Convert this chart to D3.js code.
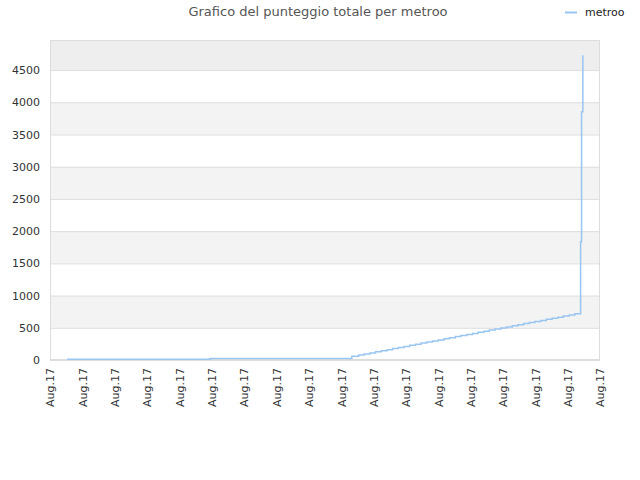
<!DOCTYPE html>
<html>
<head>
<meta charset="utf-8">
<script src="https://cdn.jsdelivr.net/npm/d3@7"></script>
<style>
  body { margin: 0; background: #fff; }
  text { font-family: "DejaVu Sans", sans-serif; }
</style>
</head>
<body>
<svg width="640" height="480"></svg>
<script>
// time axis in "tick units" (0..17), every tick reads Aug.17
const tickPos = d3.range(0, 18);
const tickLabel = "Aug.17";
const yTicks = [0, 500, 1000, 1500, 2000, 2500, 3000, 3500, 4000, 4500];

// cumulative score
const times = [0.53, 4.95, 9.33, 9.54, 9.71, 9.89, 10.06, 10.24, 10.42, 10.59, 10.77, 10.94,
  11.12, 11.30, 11.47, 11.65, 11.82, 12.00, 12.18, 12.35, 12.53, 12.70, 12.88, 13.06,
  13.23, 13.41, 13.58, 13.76, 13.94, 14.11, 14.29, 14.46, 14.64, 14.82, 14.99, 15.17,
  15.34, 15.52, 15.70, 15.87, 16.05, 16.22, 16.40, 16.43, 16.47];
const scores = [10, 25, 60, 77, 94, 110, 127, 144, 161, 178, 195, 211, 228, 245,
  262, 279, 295, 312, 329, 346, 363, 380, 396, 413, 430, 447, 464, 480, 497, 514,
  531, 548, 565, 581, 598, 615, 632, 649, 665, 682, 699, 716, 1836, 3853, 4730];

const svg = d3.select("svg"),
	margin = {left: 50, right: 40, top: 40, bottom: 120},
	w = 640 - margin.left - margin.right,
	h = 480 - margin.top - margin.bottom;

let x = d3.scaleLinear().domain([0, 17]).range([margin.left, margin.left + w]);
let y = d3.scaleLinear().domain([0, d3.max(scores) * 1.05]).range([margin.top + h, margin.top]);

// alternating bands
let bandEdges = yTicks.concat([y.domain()[1]]);
let gbands = svg.append("g").attr("class", "bands");
for (let i = 0; i < bandEdges.length - 1; i++) {
	let fill = i == bandEdges.length - 2 ? "#eeeeee" : (i % 2 ? "#f3f3f3" : "#ffffff");
	gbands.append("rect")
		.attr("x", margin.left)
		.attr("y", y(bandEdges[i + 1]))
		.attr("width", w)
		.attr("height", y(bandEdges[i]) - y(bandEdges[i + 1]))
		.attr("fill", fill);
}

// grid lines + y labels
let yAxis = svg.append("g")
	.attr("transform", `translate(${margin.left},0)`)
	.call(d3.axisLeft(y).tickValues(yTicks).tickSize(-w).tickPadding(10).tickFormat(d3.format("d")));
yAxis.select(".domain").remove();
yAxis.selectAll(".tick line").attr("stroke", "#dddddd");
yAxis.selectAll(".tick text").attr("fill", "#333").style("font-size", "11px");

// x labels
let xAxis = svg.append("g")
	.attr("transform", `translate(0,${margin.top + h})`)
	.call(d3.axisBottom(x).tickValues(tickPos).tickSize(0).tickFormat(() => tickLabel));
xAxis.select(".domain").remove();
xAxis.selectAll(".tick text")
	.attr("fill", "#333")
	.style("font-size", "11px")
	.attr("text-anchor", "end")
	.attr("transform", "rotate(-90)")
	.attr("x", -8)
	.attr("y", 0)
	.attr("dy", "0.35em");

// border
svg.append("rect")
	.attr("x", margin.left + 0.5).attr("y", margin.top + 0.5)
	.attr("width", w - 1).attr("height", h - 1)
	.attr("fill", "none").attr("stroke", "#dddddd");

// step line
let data = times.map((t, i) => [t, scores[i]]);
let line = d3.line().x(d => x(d[0])).y(d => y(d[1])).curve(d3.curveStepAfter);
svg.append("path")
	.datum(data)
	.attr("fill", "none")
	.attr("stroke", "#99c5f1")
	.attr("stroke-width", 1.5)
	.attr("d", line);

// title
svg.append("text")
	.attr("x", 318).attr("y", 16)
	.attr("text-anchor", "middle")
	.attr("fill", "#555")
	.style("font-size", "13px")
	.text("Grafico del punteggio totale per metroo");

// legend
svg.append("line")
	.attr("x1", 565).attr("x2", 577).attr("y1", 12.5).attr("y2", 12.5)
	.attr("stroke", "#99c5f1").attr("stroke-width", 2);
svg.append("text")
	.attr("x", 585).attr("y", 16)
	.attr("fill", "#222")
	.style("font-size", "11px")
	.text("metroo");
</script>
</body>
</html>
